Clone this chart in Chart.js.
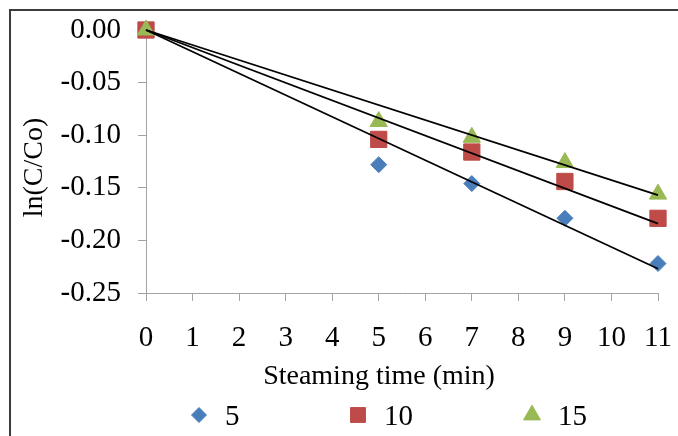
<!DOCTYPE html>
<html>
<head>
<meta charset="utf-8">
<title>ln(C/Co) vs steaming time</title>
<script src="https://cdn.jsdelivr.net/npm/chart.js@4.4.1/dist/chart.umd.min.js"></script>
<style>
  html, body { margin: 0; padding: 0; background: #fff; }
  #marco { position: relative; width: 678px; height: 436px; overflow: hidden; }
  #borde { position: absolute; left: 9px; top: 9px; right: -10px; bottom: -10px;
           border-left: 2px solid #3c3c3c; border-top: 2px solid #3c3c3c; }
  canvas { position: absolute; left: 0; top: 0; }
</style>
</head>
<body>
<div id="marco">
  <div id="borde"></div>
  <canvas id="grafico" width="678" height="436"></canvas>
</div>
<script>
// datos
const tiempos = [0, 5, 7, 9, 11];
const serie5 = [0, -0.128, -0.146, -0.179, -0.222];
const serie10 = [0, -0.104, -0.116, -0.144, -0.179];
const serie15 = [0, -0.087, -0.102, -0.126, -0.156];
const nombresSeries = ['5', '10', '15'];

// lineas de tendencia (extremos x=0 y x=11)
const tendenciaX = [0, 11];
const tendencia5 = [0, -0.227];
const tendencia10 = [0, -0.184];
const tendencia15 = [0, -0.157];

const ticksY = [0, -0.05, -0.10, -0.15, -0.20, -0.25];

const fuente = "'Liberation Serif', 'Times New Roman', serif";
const gris = '#a3a3a3';

function puntos(xs, ys) {
    return xs.map((x, i) => ({ x: x, y: ys[i] }));
}

function tendencia(ys) {
    return {
        type: 'line',
        data: puntos(tendenciaX, ys),
        borderColor: '#000',
        borderWidth: 1.8,
        pointRadius: 0,
        fill: false,
        clip: false
    };
}

function serie(nombre, ys, color, forma, radio) {
    return {
        type: 'scatter',
        label: nombre,
        data: puntos(tiempos, ys),
        backgroundColor: color,
        borderColor: color,
        pointBackgroundColor: color,
        pointBorderColor: color,
        pointBorderWidth: 1,
        pointStyle: forma,
        pointRadius: radio,
        pointHoverRadius: radio,
        clip: false
    };
}

// leyenda dibujada abajo, con separacion como en el original
const leyendaInferior = {
    id: 'leyendaInferior',
    afterDraw(chart, args, opts) {
        const ctx = chart.ctx;
        ctx.save();
        ctx.font = `29px ${fuente}`;
        ctx.textBaseline = 'middle';
        ctx.textAlign = 'left';
        opts.items.forEach(it => {
            const ds = chart.data.datasets[it.dataset];
            ctx.fillStyle = ds.backgroundColor;
            ctx.strokeStyle = ds.borderColor;
            ctx.lineWidth = 1;
            Chart.helpers.drawPoint(ctx, { pointStyle: ds.pointStyle, radius: it.radio, rotation: 0, borderWidth: 1 }, it.x, opts.y);
            ctx.fillStyle = '#000';
            ctx.fillText(ds.label, it.x + opts.separacion, opts.y + 2);
        });
        ctx.restore();
    }
};

// los titulos de eje en el original no estan centrados en el area del grafico
function moverTitulo(escala, dx, dy) {
    if (escala._tituloOriginal) return;
    escala._tituloOriginal = escala.drawTitle;
    escala.drawTitle = function () {
        const l = this.left, r = this.right, t = this.top, b = this.bottom;
        this.left += dx; this.right += dx;
        this.top += dy; this.bottom += dy;
        this._tituloOriginal();
        this.left = l; this.right = r; this.top = t; this.bottom = b;
    };
}

const corrimientoTitulo = {
    id: 'corrimientoTitulo',
    afterLayout(chart, args, opts) {
        moverTitulo(chart.scales.x, opts.dx, 0);
        moverTitulo(chart.scales.y, 0, opts.dy);
    }
};

const ctx = document.getElementById('grafico');
new Chart(ctx, {
    type: 'scatter',
    data: {
        datasets: [
            tendencia(tendencia5),
            tendencia(tendencia10),
            tendencia(tendencia15),
            serie(nombresSeries[2], serie15, '#98b954', 'triangle', 10),
            serie(nombresSeries[1], serie10, '#be4b48', 'rect', 11.5),
            serie(nombresSeries[0], serie5, '#4a7ebb', 'rectRot', 8)
        ]
    },
    options: {
        responsive: false,
        animation: false,
        layout: { padding: { top: 30, right: 20, left: 0, bottom: 0 } },
        plugins: {
            legend: { display: false },
            tooltip: { enabled: false },
            leyendaInferior: {
                y: 415,
                separacion: 26,
                items: [
                    { dataset: 5, x: 199, radio: 7.5 },
                    { dataset: 4, x: 358, radio: 10.5 },
                    { dataset: 3, x: 532, radio: 9.8 }
                ]
            },
            corrimientoTitulo: { dx: -23, dy: 6 }
        },
        scales: {
            x: {
                type: 'linear',
                min: 0,
                max: 11,
                afterFit: s => { s.height = 143; s.paddingLeft = 0; s.paddingRight = 0; },
                ticks: { stepSize: 1, color: '#000', padding: 20, font: { family: fuente, size: 29 } },
                grid: { drawOnChartArea: false, drawTicks: true, tickLength: 8, color: gris },
                border: { color: gris, width: 1 },
                title: {
                    display: true,
                    text: 'Steaming time (min)',
                    color: '#000',
                    font: { family: fuente, size: 28 },
                    padding: { top: 0, bottom: 43 }
                }
            },
            y: {
                type: 'linear',
                min: -0.25,
                max: 0,
                afterFit: s => { s.width = 146; s.paddingTop = 0; s.paddingBottom = 0; },
                afterBuildTicks: s => { s.ticks = ticksY.map(v => ({ value: v })); },
                ticks: {
                    color: '#000',
                    padding: 17,
                    font: { family: fuente, size: 29 },
                    callback: v => Number(v).toFixed(2)
                },
                grid: { drawOnChartArea: false, drawTicks: true, tickLength: 8, color: gris },
                border: { color: gris, width: 1 },
                title: {
                    display: true,
                    text: 'ln(C/Co)',
                    color: '#000',
                    font: { family: fuente, size: 28 },
                    padding: { top: 18, bottom: 0 }
                }
            }
        }
    },
    plugins: [leyendaInferior, corrimientoTitulo]
});
</script>
</body>
</html>
